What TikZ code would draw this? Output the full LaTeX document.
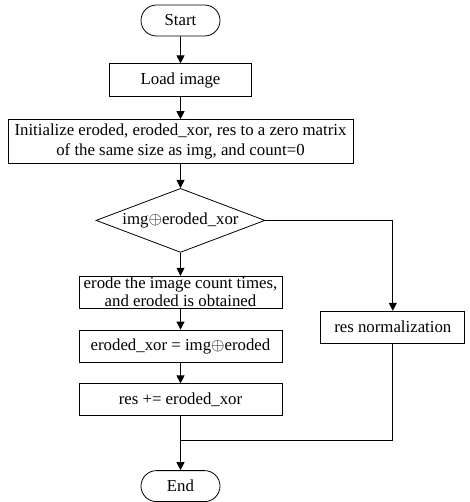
\documentclass[tikz,border=0pt]{standalone}
\usepackage{fontspec}
\setmainfont{Liberation Serif}
\usepackage{tikz}
\usetikzlibrary{shapes.geometric, shapes.misc, arrows.meta, positioning, calc}
\tikzset{
  term/.style={rounded rectangle, draw, minimum width=79pt, minimum height=31pt,
    inner sep=0pt, line width=0.8pt},
  box/.style={rectangle, draw, align=center, minimum height=33pt,
    inner sep=0pt, line width=0.8pt},
  decide/.style={diamond, draw, aspect=2.64, minimum width=169pt, minimum height=64pt,
    inner sep=0pt, line width=0.8pt},
  arrow/.style={-{Triangle[length=8pt,width=8pt]}, line width=0.8pt},
  line/.style={line width=0.8pt}
}
\begin{document}
\begin{tikzpicture}[font=\fontsize{16.8}{20}\selectfont]
  \useasboundingbox (0,0) rectangle (469pt,-502pt);
  % Main column
  \node[term] (start) at (180.5pt,-20.5pt) {Start};
  \node[box, minimum width=142pt, below=27pt of start] (load) {Load image};
  \node[box, minimum width=345pt, minimum height=44pt, below=22pt of load] (init)
    {Initialize eroded, eroded\_xor, res to a zero matrix\\of the same size as img, and count=0};
  \node[decide, below=24pt of init] (test) {img$\oplus$eroded\_xor};
  \node[box, minimum width=203pt, minimum height=32pt, text height=30pt, text depth=2pt,
    below=23pt of test, font=\fontsize{16.8}{17.5}\selectfont] (erode)
    {erode the image count times,\\and eroded is obtained};
  \node[box, minimum width=203pt, minimum height=32pt, below=21pt of erode] (exor)
    {eroded\_xor = img$\oplus$eroded};
  \node[box, minimum width=203pt, minimum height=32pt, below=21pt of exor] (res)
    {res += eroded\_xor};
  \node[term, below=54pt of res] (end) {End};
  % Side branch
  \node[box, minimum width=144pt, minimum height=32pt, right=38pt of erode, yshift=-35pt] (norm)
    {res normalization};
  \coordinate[below=24pt of res] (join);
  % Arrows
  \draw[arrow] (start) -- (load);
  \draw[arrow] (load) -- (init);
  \draw[arrow] (init) -- (test);
  \draw[arrow] (test) -- (erode);
  \draw[arrow] (erode) -- (exor);
  \draw[arrow] (exor) -- (res);
  \draw[arrow] (res) -- (end);
  \draw[arrow] (test.east) -| (norm.north);
  \draw[line] (norm.south) |- (join);
\end{tikzpicture}
\end{document}
